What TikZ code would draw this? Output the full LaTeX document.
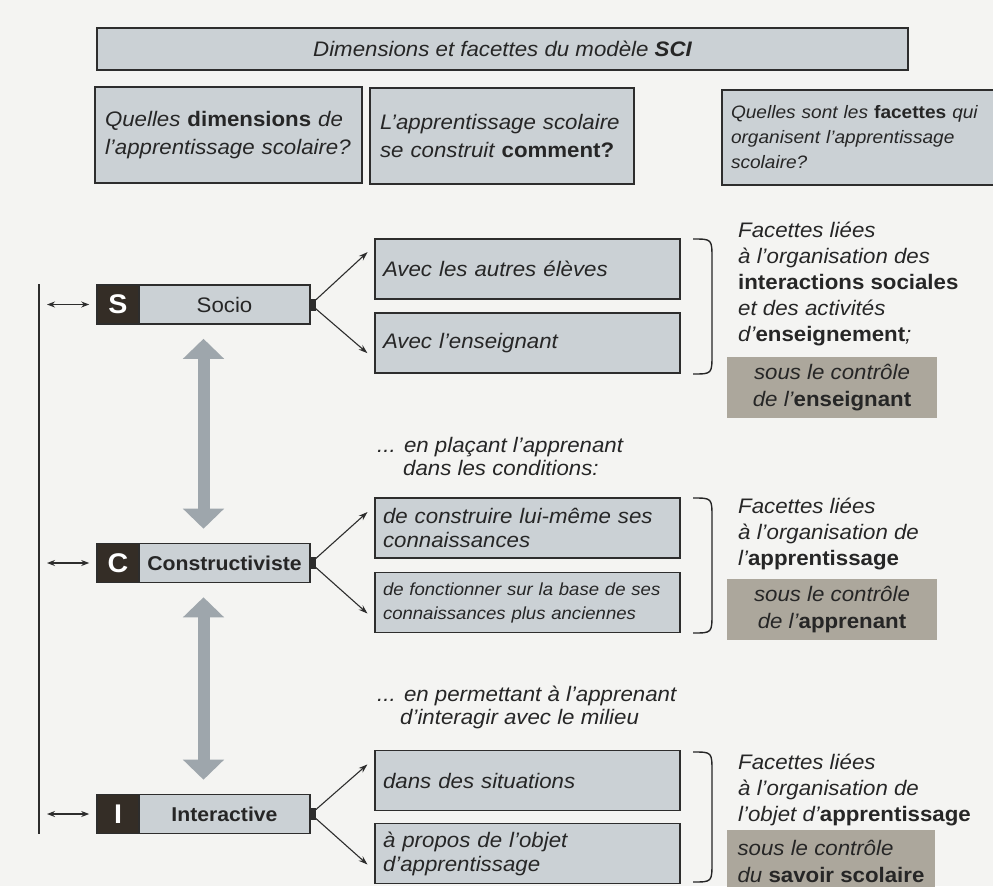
\documentclass[tikz,border=0pt]{standalone}
\usepackage{fontspec}
\setmainfont[FakeStretch=1.06]{Liberation Sans}
\usetikzlibrary{arrows.meta,positioning}

\definecolor{paper}{RGB}{244,244,242}
\definecolor{ink}{RGB}{38,38,38}
\definecolor{boxline}{RGB}{45,45,45}
\definecolor{boxfill}{RGB}{203,209,213}
\definecolor{ctrlfill}{RGB}{172,167,156}
\definecolor{letterfill}{RGB}{52,45,38}
\definecolor{shaft}{RGB}{158,166,172}

\tikzset{
    box/.style={draw=boxline, line width=1.6pt, fill=boxfill, text=ink, inner ysep=0pt},
    titlebox/.style={box, minimum width=811pt, minimum height=42pt,
        font=\itshape\fontsize{21}{26}\selectfont},
    askbox/.style={box, minimum height=96pt, inner xsep=10pt, align=left,
        font=\itshape\fontsize{21}{28}\selectfont},
    dimbox/.style={box, minimum width=213pt, minimum height=39pt, inner xsep=0pt,
        font=\fontsize{21}{26}\selectfont},
    letterbox/.style={draw=boxline, line width=1.6pt, fill=letterfill, text=white,
        minimum width=42pt, minimum height=39pt, inner sep=0pt,
        font=\bfseries\fontsize{27}{27}\selectfont},
    waybox/.style={box, text width=289pt, minimum height=60pt, inner xsep=8pt, align=left,
        font=\itshape\fontsize{21}{24}\selectfont},
    facettext/.style={text=ink, align=left, inner sep=0pt, font=\itshape\fontsize{21}{26}\selectfont},
    ctrlbox/.style={fill=ctrlfill, text=ink, minimum width=210pt, minimum height=61pt, inner sep=0pt,
        align=center, font=\itshape\fontsize{21}{27}\selectfont},
    linktext/.style={text=ink, align=left, inner sep=0pt, font=\itshape\fontsize{21}{23}\selectfont},
    fan/.style={-{Stealth[length=9pt,width=6pt]}, line width=1.1pt, draw=boxline, shorten >=9pt},
    railarrow/.style={{Stealth[length=8pt,width=6pt]}-{Stealth[length=8pt,width=6pt]},
        line width=1.1pt, draw=boxline, shorten <=8pt, shorten >=7pt},
    bigarrow/.style={draw=shaft, line width=12pt,
        {Triangle[width=40pt,length=20pt]}-{Triangle[width=40pt,length=20pt]},
        shorten <=14pt, shorten >=14pt},
    facebrace/.style={draw=ink, line width=1.4pt}
}

\begin{document}
\begin{tikzpicture}[x=1pt, y=-1pt]
    \useasboundingbox (0,0) rectangle (993,886);
    \fill[paper] (0,0) rectangle (993,886);

    \node[titlebox] (title) at (502.5,49) {Dimensions et facettes du modèle \textbf{SCI}};
    \node[askbox, text width=247pt] (askwhat) at (228.5,135)
        {Quelles {\bfseries\upshape dimensions} de\\l'apprentissage scolaire?};
    \node[askbox, text width=244pt] (askhow) at (502,136)
        {L'apprentissage scolaire\\se construit {\bfseries\upshape comment?}};
    \node[askbox, text width=255pt, inner xsep=9pt, minimum height=95pt,
        font=\itshape\fontsize{18}{25}\selectfont] (askfacet) at (858.5,137.5)
        {Quelles sont les {\bfseries\upshape facettes} qui\\organisent l'apprentissage\\scolaire?};

    \node[dimbox] (S) at (203.5,304.5) {\hspace*{42pt}Socio};
    \node[letterbox, anchor=west] (Sl) at (S.west) {S};
    \node[dimbox, font=\bfseries\fontsize{20}{26}\selectfont] (C) at (203.5,563)
        {\hspace*{42pt}Constructiviste};
    \node[letterbox, anchor=west] (Cl) at (C.west) {C};
    \node[dimbox, font=\bfseries\fontsize{20}{26}\selectfont] (I) at (203.5,814)
        {\hspace*{42pt}Interactive};
    \node[letterbox, anchor=west] (Il) at (I.west) {I};

    \coordinate (rail) at (39,0);
    \draw[line width=1.4pt, draw=boxline] (S.north -| rail) -- (I.south -| rail);
    \draw[railarrow] (S -| rail) -- (Sl.west);
    \draw[railarrow] (C -| rail) -- (Cl.west);
    \draw[railarrow] (I -| rail) -- (Il.west);

    \draw[bigarrow] (S.south) -- (C.north);
    \draw[bigarrow] (C.south) -- (I.north);

    \node[waybox] (withpeers) at (527.5,269) {Avec les autres élèves};
    \node[waybox] (withteacher) at (527.5,343) {Avec l'enseignant};
    \node[linktext, anchor=west] (placing) at (377,456)
        {... en plaçant l'apprenant\\\hspace*{26pt}dans les conditions:};
    \node[waybox] (build) at (527.5,528) {de construire lui-même ses\\connaissances};
    \node[waybox, font=\itshape\fontsize{17.5}{24}\selectfont] (rely) at (527.5,602.5)
        {de fonctionner sur la base de ses\\connaissances plus anciennes};
    \node[linktext, anchor=west] (letting) at (377,707)
        {... en permettant à l'apprenant\\\hspace*{23pt}d'interagir avec le milieu};
    \node[waybox] (situations) at (527.5,780.5) {dans des situations};
    \node[waybox] (topic) at (527.5,853.5) {à propos de l'objet\\d'apprentissage};

    \foreach \d in {S,C,I}
        \fill[boxline] ([yshift=-6pt]\d.east) rectangle ([xshift=5pt,yshift=6pt]\d.east);
    \draw[fan] (S.east) -- ([yshift=23pt]withpeers.west);
    \draw[fan] (S.east) -- ([yshift=-16pt]withteacher.west);
    \draw[fan] (C.east) -- ([yshift=22pt]build.west);
    \draw[fan] (C.east) -- ([yshift=-17pt]rely.west);
    \draw[fan] (I.east) -- ([yshift=22pt]situations.west);
    \draw[fan] (I.east) -- ([yshift=-17pt]topic.west);

    \foreach \t/\b in {239/374, 498/633, 752/882}
        \draw[facebrace] (693,\t) .. controls (712,\t) .. (712,\t+20)
            -- (712,\b-20) .. controls (712,\b) .. (693,\b);

    \node[facettext, anchor=west] (facet1) at (738,284)
        {Facettes liées\\à l'organisation des\\{\bfseries\upshape interactions sociales}\\
         et des activités\\d'{\bfseries\upshape enseignement};};
    \node[ctrlbox] (ctrl1) at (832,387.5) {sous le contrôle\\de l'{\bfseries\upshape enseignant}};
    \node[facettext, anchor=west] (facet2) at (738,534)
        {Facettes liées\\à l'organisation de\\l'{\bfseries\upshape apprentissage}};
    \node[ctrlbox] (ctrl2) at (832,609.5) {sous le contrôle\\de l'{\bfseries\upshape apprenant}};
    \node[facettext, anchor=west] (facet3) at (738,790)
        {Facettes liées\\à l'organisation de\\l'objet d'{\bfseries\upshape apprentissage}};
    \node[ctrlbox, align=left, minimum height=62pt, inner xsep=10pt, minimum width=208pt]
        (ctrl3) at (831,861) {sous le contrôle\\du {\bfseries\upshape savoir scolaire}};
\end{tikzpicture}
\end{document}
